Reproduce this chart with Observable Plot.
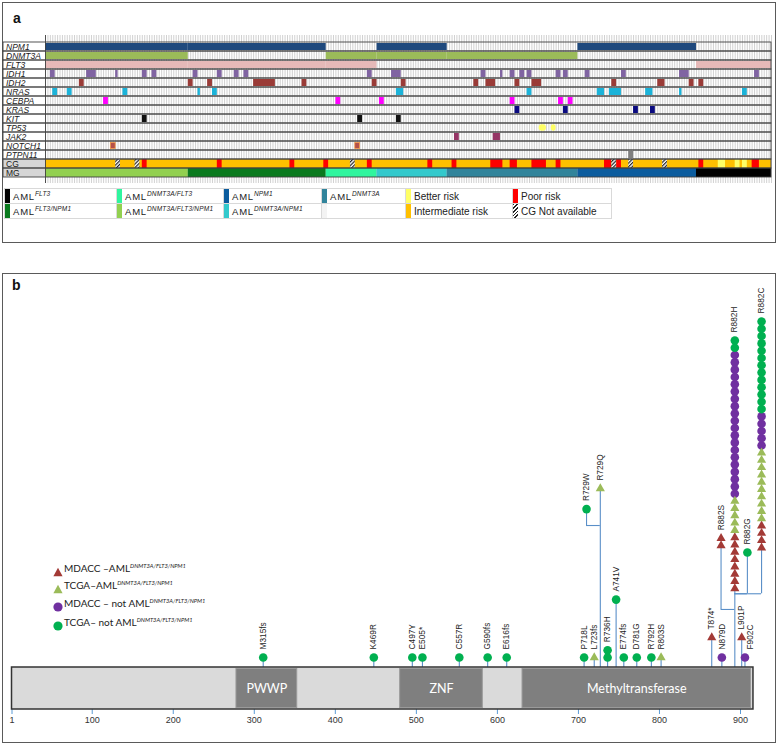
<!DOCTYPE html>
<html>
<head>
<meta charset="utf-8">
<script src="https://cdn.jsdelivr.net/npm/d3@7"></script>
<script src="https://cdn.jsdelivr.net/npm/@observablehq/plot@0.6"></script>
<style>
html,body{margin:0;padding:0;background:#fff;}
#page{position:relative;width:778px;height:744px;overflow:hidden;font-family:"Liberation Sans",Arial,sans-serif;}
.panel{position:absolute;box-sizing:border-box;border:1px solid #5a5a5a;background:#fff;}
.plab{position:absolute;font:bold 14px/14px "Liberation Sans",Arial,sans-serif;color:#111;}
.pl{position:absolute;}
.cell{position:absolute;box-sizing:border-box;border:1px solid #d9d9d9;height:16px;}
.sw{position:absolute;left:0;top:0;bottom:0;width:5px;}
.ctext{position:absolute;left:8px;top:3px;white-space:nowrap;font-size:9.5px;line-height:9.5px;letter-spacing:0.8px;color:#222;}
.ctext sup{font-size:6.5px;font-style:italic;letter-spacing:0.2px;vertical-align:baseline;position:relative;top:-4.5px;}
.rtext{position:absolute;left:8px;top:2.5px;white-space:nowrap;font-size:10px;line-height:10px;color:#222;}
.hatch{background:repeating-linear-gradient(135deg,#222 0 1.2px,#fff 1.2px 2.6px);}
.li{position:absolute;white-space:nowrap;font-family:Lato,"Open Sans",sans-serif;font-size:10px;line-height:10px;color:#222;}
.li sup{font-size:5.8px;font-style:italic;vertical-align:baseline;position:relative;top:-4px;}
.lm{position:absolute;}
#barplot [aria-label="x-axis"] line, #barplot [aria-label="x-axis tick"], #barplot [aria-label="x-axis tick"] path{stroke:#5b9bd5 !important;}
</style>
</head>
<body>
<div id="page">
  <div class="panel" id="pa" style="left:2px;top:2px;width:774px;height:241px;">
    <div class="plab" style="left:10px;top:8px;">a</div>
  </div>
  <div class="panel" id="pb" style="left:2px;top:273px;width:774px;height:470px;">
    <div class="plab" style="left:9px;top:4px;">b</div>
  </div>
</div>
<script>
// ================= Panel a data =================
const geneRows = ["NPM1","DNMT3A","FLT3","IDH1","IDH2","NRAS","CEBPA","KRAS","KIT","TP53","JAK2","NOTCH1","PTPN11"];
const rowsA = [...geneRows, "CG", "MG"];
// molecular groups (left to right) and their patient counts
const mgGroups = ["DNMT3A/FLT3/NPM1","FLT3/NPM1","DNMT3A/FLT3","DNMT3A/NPM1","DNMT3A","NPM1","FLT3"];
const mgSizes  = [59, 57, 21, 29, 54, 49, 31];
const mgColors = ["#92d050","#0a7a1e","#2ff59e","#33c9cc","#31849b","#0b5c9e","#000000"];
const driverColors = {NPM1:"#1f497d", DNMT3A:"#9bbb59", FLT3:"#e6b9b8"};
// co-mutations: [first patient, last patient + 1]
const idh1 = [[2,4],[17,21],[29,30],[40,42],[44,46],[61,63],[71,73],[78,80],[82,84],[133,135],[143,147],[180,182],[188,189],[192,194],[196,198],[199,201],[211,213],[214,216],[223,225],[238,240],[262,266],[293,295]];
const idh2 = [[14,16],[59,61],[67,69],[86,95],[106,108],[135,137],[147,149],[177,179],[182,186],[194,196],[201,205],[234,236],[253,256],[266,268],[270,272]];
const nras = [[3,5],[9,11],[32,34],[63,64],[69,71],[145,148],[199,201],[228,231],[233,238],[248,251],[262,263],[288,290]];
const cebpa = [[24,26],[120,122],[138,140],[192,194],[212,214],[216,218]];
const kras = [[194,196],[214,216],[243,245],[250,252]];
const kit = [[40,42],[129,131],[145,147]];
const tp53 = [[204,207],[209,211]];
const jak2 = [[169,171],[185,188]];
const notch1 = [[27,29],[128,130]];
const ptpn11 = [[241,243]];
const cgPoor = [[40,42],[71,73],[101,103],[115,117],[133,135],[158,160],[168,170],[184,189],[192,195],[201,207],[211,213],[231,234],[236,238],[270,272],[292,295]];
const cgBetter = [[278,281],[285,287],[288,290]];
const cgNA = [[29,31],[37,39],[126,128],[234,236],[241,243],[255,257]];
const legendRow1 = ["FLT3","DNMT3A/FLT3","NPM1","DNMT3A"];
const legendRow2 = ["FLT3/NPM1","DNMT3A/FLT3/NPM1","DNMT3A/NPM1", null];
const riskNames  = ["Better risk","Intermediate risk","Poor risk","CG Not available"];
const riskColors = ["#ffff66","#ffc000","#ff0000","hatch"];

// ================= Panel b data =================
const mutLabels = ["M315fs","K469R","C497Y","E505*","C557R","G590fs","E616fs","P718L","L723fs","R729W","R729Q","R736H","A741V","E774fs","D781G","R792H","R803S","T874*","N879D","R882S","R882H","R882G","R882C","L901P","F902C"];
const mutPos    = [311, 447.5, 495, 507.5, 553, 588, 611.5, 707, 719.5, 710, 727, 736, 746.5, 756, 772, 790, 802, 864.5, 877, 876, 893, 908.5, 926, 901.5, 905.5];
const mdaccTriple = [0,0,0,0,0,0,0,0,0,0,0,0,0,0,0,0,0,1,0,2,8,0,4,1,0];
const tcgaTriple  = [0,0,0,0,0,0,0,0,1,0,1,0,0,0,0,0,1,0,0,0,5,0,10,0,0];
const mdaccNot    = [0,0,0,0,0,0,0,0,0,0,0,0,0,0,0,0,0,0,1,0,20,0,5,0,1];
const tcgaNot     = [1,1,1,1,1,1,1,1,0,1,0,2,1,1,1,1,0,0,0,0,2,1,13,0,0];
const legendB = ["MDACC \u2013AML","TCGA\u2013AML","MDACC \u2013 not AML","TCGA\u2013 not AML"];
const legendBSup = "DNMT3A/FLT3/NPM1";
const domainNames = ["PWWP","ZNF","Methyltransferase"];
const domainStart = [278, 480, 631];
const domainEnd   = [353, 582, 913];
const proteinEnd = 916;
const axisTicks = [1,100,200,300,400,500,600,700,800,900];

// ================= Panel a =================
const N = d3.sum(mgSizes);
let acc = 0;
const spans = mgGroups.map((g, i) => { const s = acc; acc += mgSizes[i]; return {group: g, genes: g.split("/"), s, e: acc, color: mgColors[i]}; });
const driverBars = [];
["NPM1","DNMT3A","FLT3"].forEach(g => spans.filter(sp => sp.genes.includes(g)).forEach(sp => driverBars.push({row: g, s: sp.s, e: sp.e, color: driverColors[g]})));
const mutSets = [["IDH1", idh1, "#8064a2"],["IDH2", idh2, "#9a3b37"],["NRAS", nras, "#1bb3d9"],["CEBPA", cebpa, "#ff00ff"],["KRAS", kras, "#0b0b80"],["KIT", kit, "#111111"],["JAK2", jak2, "#953565"],["PTPN11", ptpn11, "#808080"]];
const mutRects = [];
mutSets.forEach(([row, arr, color]) => arr.forEach(([s, e]) => mutRects.push({row, s, e, color})));
const toRects = (arr, row, color) => arr.map(([s, e]) => ({row, s, e, color}));

const A_FONT = '"Liberation Sans Narrow","Arial Narrow","Liberation Sans",sans-serif';
const plotA = Plot.plot({
  width: 772, height: 150, marginLeft: 42, marginRight: 4, marginTop: 1, marginBottom: 1,
  x: {domain: [0, N], axis: null},
  y: {domain: rowsA, axis: null, padding: 0},
  color: {type: "identity"},
  style: {background: "transparent", overflow: "visible"},
  marks: [
    Plot.barX(["CG","MG"], {y: d => d, x1: 0, x2: N, fill: "#d6d6d6", insetLeft: -42}),
    Plot.ruleX(d3.range(N + 1), {x: d => d, stroke: "#bdbdbd", strokeWidth: 0.7}),
    Plot.barX(driverBars, {y: "row", x1: "s", x2: "e", fill: "color", insetTop: 1, insetBottom: 1}),
    Plot.barX(mutRects, {y: "row", x1: "s", x2: "e", fill: "color", insetTop: 1, insetBottom: 1}),
    Plot.barX(toRects(notch1, "NOTCH1", "#b4504a"), {y: "row", x1: "s", x2: "e", fill: "color", stroke: "#f39a45", strokeWidth: 0.8, insetTop: 1.5, insetBottom: 1.5}),
    Plot.barX(toRects(tp53, "TP53", "#ffff66"), {y: "row", x1: "s", x2: "e", fill: "color", rx: 3, insetTop: 1.2, insetBottom: 1.2}),
    Plot.barX(["CG"], {y: d => d, x1: 0, x2: N, fill: "#ffc000"}),
    Plot.barX(toRects(cgPoor, "CG", "#ff0000"), {y: "row", x1: "s", x2: "e", fill: "color"}),
    Plot.barX(toRects(cgBetter, "CG", "#ffff66"), {y: "row", x1: "s", x2: "e", fill: "color"}),
    Plot.barX(toRects(cgNA, "CG", "url(#hatchA)"), {y: "row", x1: "s", x2: "e", fill: "url(#hatchA)"}),
    Plot.barX(spans, {y: () => "MG", x1: "s", x2: "e", fill: "color"}),
    Plot.barX(rowsA, {y: d => d, x1: 0, x2: N, fill: "none", stroke: "#404040", strokeWidth: 0.9, insetLeft: -42}),
    Plot.ruleX([0], {x: d => d, stroke: "#404040", strokeWidth: 0.9}),
    Plot.text(geneRows, {y: d => d, text: d => d, frameAnchor: "left", dx: -39.5, textAnchor: "start", fontStyle: "italic", fontSize: 8.5, fontFamily: A_FONT, fill: "#1a1a1a"}),
    Plot.text(["CG","MG"], {y: d => d, text: d => d, frameAnchor: "left", dx: -39.5, textAnchor: "start", fontSize: 8.5, fontFamily: A_FONT, fill: "#1a1a1a"})
  ]
});
d3.select(plotA).insert("defs", ":first-child").html('<pattern id="hatchA" patternUnits="userSpaceOnUse" width="2.6" height="2.6" patternTransform="rotate(45)"><rect width="2.6" height="2.6" fill="#fff"/><rect width="1.2" height="2.6" fill="#222"/></pattern>');
const wrapA = document.createElement("div");
wrapA.className = "pl"; wrapA.style.left = "0px"; wrapA.style.top = "31px";
wrapA.appendChild(plotA);
document.getElementById("pa").appendChild(wrapA);

// legend a
const pa = document.getElementById("pa");
const cellLefts = [1, 113, 220, 318, 402, 509, 608];
const rowTops = [185, 200];
const colorOf = g => mgColors[mgGroups.indexOf(g)];
function addCell(col, row, swatch, html, cls) {
  const c = document.createElement("div");
  c.className = "cell";
  c.style.left = cellLefts[col] + "px"; c.style.top = rowTops[row] + "px";
  c.style.width = (cellLefts[col + 1] - cellLefts[col] + 1) + "px";
  const sw = document.createElement("div");
  sw.className = "sw" + (swatch === "hatch" ? " hatch" : "");
  if (swatch && swatch !== "hatch") sw.style.background = swatch;
  c.appendChild(sw);
  if (html) { const t = document.createElement("div"); t.className = cls; t.innerHTML = html; c.appendChild(t); }
  pa.appendChild(c);
}
[legendRow1, legendRow2].forEach((r, ri) => r.forEach((g, ci) => {
  if (g) addCell(ci, ri, colorOf(g), `AML<sup>${g}</sup>`, "ctext");
  else addCell(ci, ri, "#f3f3f3", null, "ctext");
}));
riskNames.forEach((n, i) => addCell(4 + Math.floor(i / 2), i % 2, riskColors[i], n, "rtext"));

// ================= Panel b =================
const BASE = 1.37;  // first marker centre above the protein bar, in marker steps
const stackBase = {"T874*": 4.1, "L901P": 4.1, "A741V": 9.3, "R729Q": 24.5, "R729W": 21.7, "R882H": 10.8, "R882C": 16.4, "R882G": 15.75, "R882S": 16.7};
const connectors = {"R729W": [19.45, 727], "R882C": [10.1, 893], "R882G": [10.1, 893], "R882S": [7.95, 893]};
const labelShift = {"F902C": 7};
const cats = [
  {values: mdaccTriple, color: "#a33a36", symbol: "triangle"},
  {values: tcgaTriple,  color: "#9bbb59", symbol: "triangle"},
  {values: mdaccNot,    color: "#7030a0", symbol: "circle"},
  {values: tcgaNot,     color: "#00b050", symbol: "circle"}
];
const markers = [], stems = [], links = [], labels = [];
mutLabels.forEach((m, i) => {
  const base = stackBase[m] ?? BASE;
  let k = 0;
  cats.forEach(c => { for (let j = 0; j < c.values[i]; j++) { markers.push({x: mutPos[i], y: base + k, color: c.color, symbol: c.symbol}); k++; } });
  const conn = connectors[m];
  stems.push({x: mutPos[i], y1: conn ? conn[0] : 0, y2: base});
  if (conn) links.push({y: conn[0], x1: mutPos[i], x2: conn[1]});
  labels.push({x: mutPos[i] + (labelShift[m] || 0), y: base + (k - 1) + 1.1, text: m});
});
const STEM = "#5a8fc8";
const LBL_FONT = '"Liberation Sans",Arial,sans-serif';
const plotB = Plot.plot({
  width: 772, height: 393, marginLeft: 8.5, marginRight: 35, marginTop: 28, marginBottom: 0,
  x: {domain: [1, 900], axis: null},
  y: {domain: [0, 50], axis: null},
  color: {type: "identity"},
  style: {background: "transparent", overflow: "visible"},
  marks: [
    Plot.ruleX(stems, {x: "x", y1: "y1", y2: "y2", stroke: STEM, strokeWidth: 1.1}),
    Plot.ruleY(links, {y: "y", x1: "x1", x2: "x2", stroke: STEM, strokeWidth: 1.1}),
    Plot.dot(markers.filter(d => d.symbol === "circle"), {x: "x", y: "y", r: 4.3, fill: "color", symbol: "circle"}),
    Plot.dot(markers.filter(d => d.symbol === "triangle"), {x: "x", y: "y", r: 3.4, fill: "color", symbol: "triangle"}),
    Plot.text(labels, {x: "x", y: "y", text: "text", rotate: -90, textAnchor: "start", fontSize: 8.3, fontFamily: LBL_FONT, fill: "#1e1e1e"})
  ]
});
const wrapB = document.createElement("div");
wrapB.className = "pl"; wrapB.style.left = "0px"; wrapB.style.top = "0px";
wrapB.appendChild(plotB);
document.getElementById("pb").appendChild(wrapB);

const plotBar = Plot.plot({
  width: 772, height: 62, marginLeft: 8.5, marginRight: 35, marginTop: 0, marginBottom: 20,
  x: {domain: [1, 900], ticks: axisTicks, tickSize: 5, tickPadding: 2, tickFormat: d => String(d), label: null},
  style: {background: "transparent", overflow: "visible", fontSize: "9px", color: "#333", fontFamily: LBL_FONT},
  marks: [
    Plot.rect([proteinEnd], {x1: 1, x2: d => d, fill: "#dadada", stroke: "#333", strokeWidth: 1.5}),
    Plot.rect(domainNames, {x1: (d, i) => domainStart[i], x2: (d, i) => domainEnd[i], fill: "#7f7f7f", stroke: "#9a9a9a", strokeWidth: 1, insetTop: 1.5, insetBottom: 1.5}),
    Plot.text(domainNames, {x: (d, i) => (domainStart[i] + domainEnd[i]) / 2, text: d => d, fill: "white", fontSize: 12.5, fontFamily: 'Lato,"Open Sans",sans-serif'})
  ]
});
const wrapBar = document.createElement("div");
wrapBar.className = "pl"; wrapBar.id = "barplot"; wrapBar.style.left = "0px"; wrapBar.style.top = "393px";
wrapBar.appendChild(plotBar);
document.getElementById("pb").appendChild(wrapBar);

// legend b
const pb = document.getElementById("pb");
const legCentres = [294, 311, 329, 348];
legendB.forEach((name, i) => {
  const c = cats[i];
  const m = document.createElement("div");
  m.className = "lm"; m.style.left = "50px"; m.style.top = (legCentres[i] - 5) + "px";
  m.innerHTML = c.symbol === "triangle"
    ? `<svg width="10" height="10"><polygon points="5,0.8 9.6,9.2 0.4,9.2" fill="${c.color}"/></svg>`
    : `<svg width="10" height="10"><circle cx="5" cy="5" r="4.6" fill="${c.color}"/></svg>`;
  pb.appendChild(m);
  const t = document.createElement("div");
  t.className = "li"; t.style.left = "61px"; t.style.top = (legCentres[i] - 5.5) + "px";
  t.innerHTML = `${name}<sup>${legendBSup}</sup>`;
  pb.appendChild(t);
});
</script>
</body>
</html>
